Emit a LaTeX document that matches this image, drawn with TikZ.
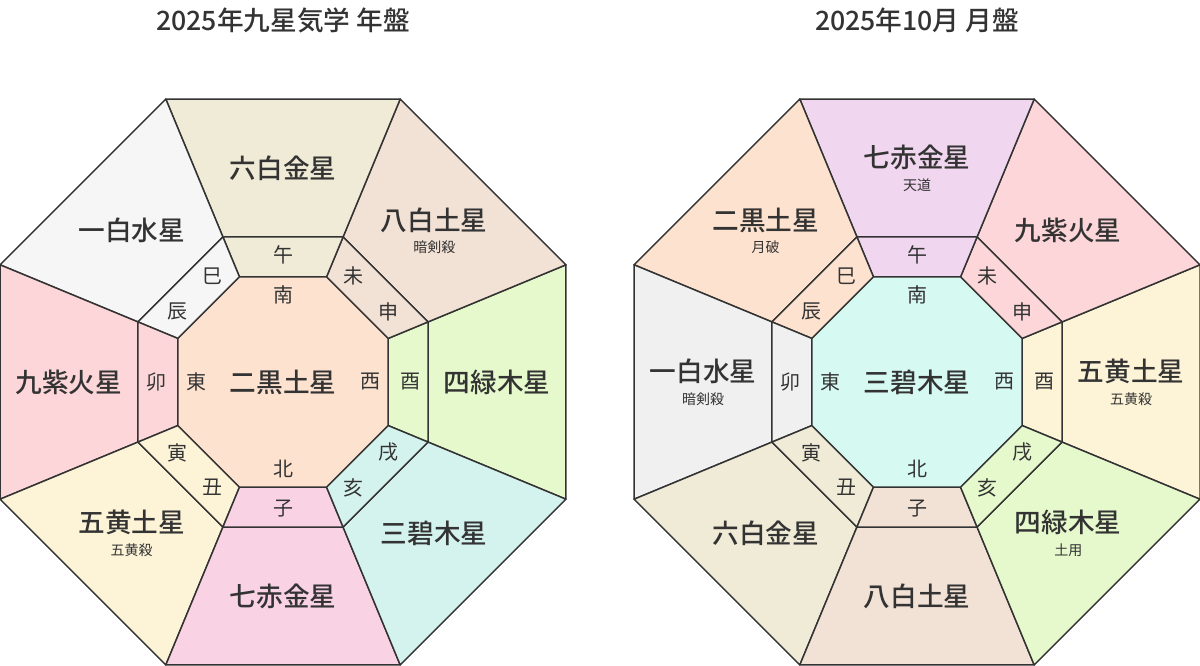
\documentclass[tikz,border=0pt]{standalone}
\usepackage{fontspec}
\newfontfamily\jp{Noto Sans CJK JP}
\newfontfamily\jpm{Noto Sans CJK JP Medium}
\definecolor{cBeige}{HTML}{F0EBD6}
\definecolor{cPBeige}{HTML}{F2E1D5}
\definecolor{cGreen}{HTML}{E6F9CC}
\definecolor{cCyan}{HTML}{D5F3EE}
\definecolor{cPink}{HTML}{F9D3E4}
\definecolor{cYellow}{HTML}{FDF4D8}
\definecolor{cRed}{HTML}{FCD6D8}
\definecolor{cWhite}{HTML}{F6F6F6}
\definecolor{cGrey}{HTML}{F0F0F0}
\definecolor{cPeach}{HTML}{FDE2CF}
\definecolor{cLav}{HTML}{F0D6EE}
\definecolor{cAqua}{HTML}{D6F9F2}
\definecolor{ink}{HTML}{333333}
\tikzset{
  edge/.style={draw=ink,line width=1.1pt,line join=round},
  mainlbl/.style={font=\jpm\fontsize{20}{20}\selectfont,text=ink,align=center,inner sep=0pt},
  zod/.style={font=\jp\fontsize{15}{16}\selectfont,text=ink,inner sep=0pt},
  ttl/.style={font=\jpm\fontsize{20}{22}\selectfont,text=ink}
}
\def\Ro{306.3}\def\Rm{157}\def\Ri{113.7}
\begin{document}
\begin{tikzpicture}[x=0.75pt,y=0.75pt]
\useasboundingbox (0,0) rectangle (1200,665);
\node[ttl] (t1) at (283,645) {2025年九星気学 年盤};
\node[ttl] (t2) at (917,645) {2025年10月 月盤};
% left
\begin{scope}[shift={(283,283)}]
\foreach \k/\c/\m/\s in {0/cGreen/四緑木星/,1/cPBeige/八白土星/暗剣殺,2/cBeige/六白金星/,3/cWhite/一白水星/,4/cRed/九紫火星/,5/cYellow/五黄土星/五黄殺,6/cPink/七赤金星/,7/cCyan/三碧木星/}{
  \path[edge,fill=\c] ({45*\k-22.5}:\Ro) -- ({45*\k+22.5}:\Ro) -- ({45*\k+22.5}:\Rm) -- ({45*\k-22.5}:\Rm) -- cycle;
  \path[edge,fill=\c] ({45*\k-22.5}:\Rm) -- ({45*\k+22.5}:\Rm) -- ({45*\k+22.5}:\Ri) -- ({45*\k-22.5}:\Ri) -- cycle;
  \node[mainlbl] (Lm\k) at ({45*\k}:214) {\m\ifx\s\empty\else\\[-3pt]{\jp\fontsize{10.5}{12}\selectfont\s}\fi};
}
\path[edge,fill=cPeach] (22.5:\Ri) \foreach \a in {67.5,112.5,...,337.5}{-- (\a:\Ri)} -- cycle;
\node[mainlbl] (Lc) at (0,0) {二黒土星};
\end{scope}
% right
\begin{scope}[shift={(917,283)}]
\foreach \k/\c/\m/\s in {0/cYellow/五黄土星/五黄殺,1/cRed/九紫火星/,2/cLav/七赤金星/天道,3/cPeach/二黒土星/月破,4/cGrey/一白水星/暗剣殺,5/cBeige/六白金星/,6/cPBeige/八白土星/,7/cGreen/四緑木星/土用}{
  \path[edge,fill=\c] ({45*\k-22.5}:\Ro) -- ({45*\k+22.5}:\Ro) -- ({45*\k+22.5}:\Rm) -- ({45*\k-22.5}:\Rm) -- cycle;
  \path[edge,fill=\c] ({45*\k-22.5}:\Rm) -- ({45*\k+22.5}:\Rm) -- ({45*\k+22.5}:\Ri) -- ({45*\k-22.5}:\Ri) -- cycle;
  \node[mainlbl] (Rm\k) at ({45*\k}:214) {\m\ifx\s\empty\else\\[-3pt]{\jp\fontsize{10.5}{12}\selectfont\s}\fi};
}
\path[edge,fill=cAqua] (22.5:\Ri) \foreach \a in {67.5,112.5,...,337.5}{-- (\a:\Ri)} -- cycle;
\node[mainlbl] (Rc) at (0,0) {三碧木星};
\end{scope}
% zodiac and directions
\foreach \cx/\p in {283/L,917/R}{
\begin{scope}[shift={(\cx,283)}]
\foreach \a/\z [count=\i] in {90/午,56.25/未,33.75/申,0/酉,-33.75/戌,-56.25/亥,-90/子,-123.75/丑,-146.25/寅,180/卯,146.25/辰,123.75/巳}{
  \node[zod] (\p z\i) at (\a:127) {\z};
}
\foreach \a/\d/\n in {90/南/s,180/東/e,0/西/w,-90/北/n}{
  \node[zod] (\p d\n) at (\a:87) {\d};
}
\end{scope}}
\end{tikzpicture}
\end{document}
